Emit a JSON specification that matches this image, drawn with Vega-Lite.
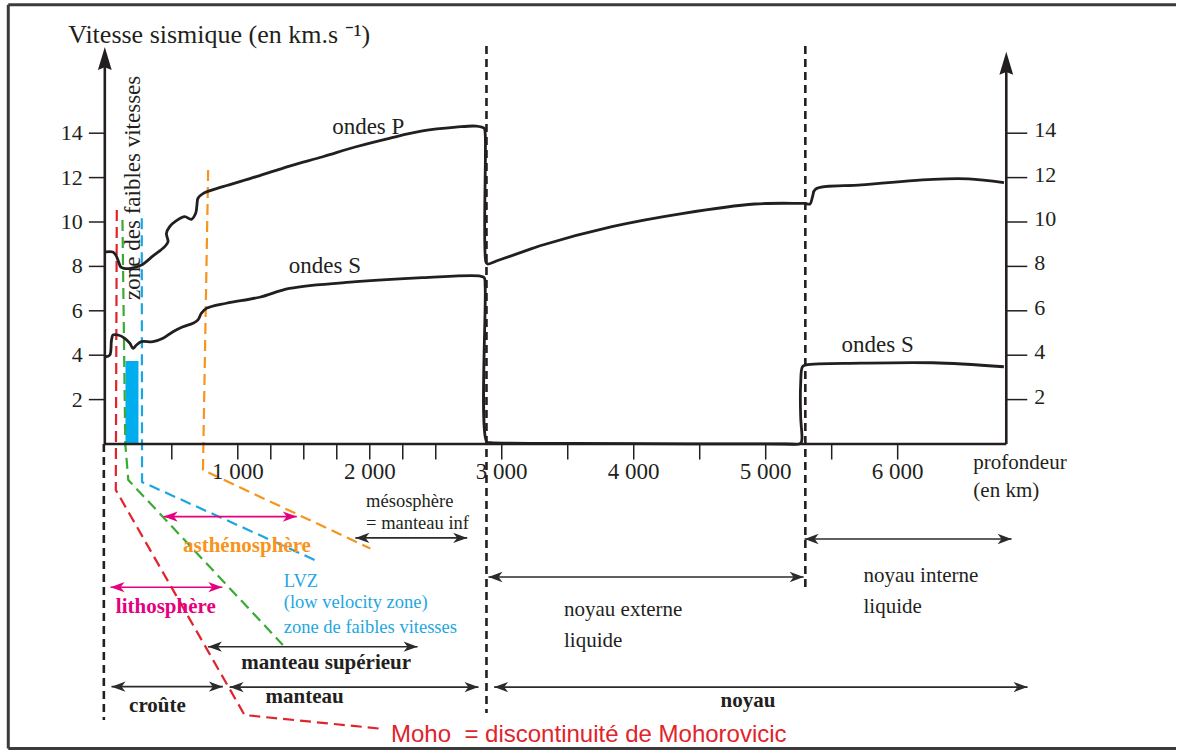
{
  "$schema": "https://vega.github.io/schema/vega-lite/v6.json",
  "width": 1178,
  "height": 751,
  "padding": 0,
  "autosize": {"type": "fit", "contains": "padding"},
  "background": "white",
  "config": {"view": {"stroke": null}},
  "resolve": {"scale": {"color": "independent"}},
  "datasets": {
    "ondes": [
      {"onde": "P", "profondeur": 0, "vitesse": 8.65},
      {"onde": "P", "profondeur": 52.9, "vitesse": 8.65},
      {"onde": "P", "profondeur": 75.6, "vitesse": 8.51},
      {"onde": "P", "profondeur": 94.6, "vitesse": 8.24},
      {"onde": "P", "profondeur": 113.5, "vitesse": 7.97},
      {"onde": "P", "profondeur": 136.2, "vitesse": 7.91},
      {"onde": "P", "profondeur": 189.1, "vitesse": 7.91},
      {"onde": "P", "profondeur": 270.0, "vitesse": 8.06},
      {"onde": "P", "profondeur": 357.8, "vitesse": 8.47},
      {"onde": "P", "profondeur": 446.3, "vitesse": 8.89},
      {"onde": "P", "profondeur": 471.3, "vitesse": 9.11},
      {"onde": "P", "profondeur": 459.2, "vitesse": 9.49},
      {"onde": "P", "profondeur": 484.1, "vitesse": 9.79},
      {"onde": "P", "profondeur": 534.8, "vitesse": 10.06},
      {"onde": "P", "profondeur": 597.6, "vitesse": 10.24},
      {"onde": "P", "profondeur": 648.3, "vitesse": 10.12},
      {"onde": "P", "profondeur": 680.8, "vitesse": 10.39},
      {"onde": "P", "profondeur": 690.6, "vitesse": 10.77},
      {"onde": "P", "profondeur": 698.2, "vitesse": 11.07},
      {"onde": "P", "profondeur": 736.0, "vitesse": 11.28},
      {"onde": "P", "profondeur": 887.3, "vitesse": 11.59},
      {"onde": "P", "profondeur": 1139.9, "vitesse": 12.04},
      {"onde": "P", "profondeur": 1391.8, "vitesse": 12.52},
      {"onde": "P", "profondeur": 1643.7, "vitesse": 12.94},
      {"onde": "P", "profondeur": 1896.4, "vitesse": 13.39},
      {"onde": "P", "profondeur": 2148.3, "vitesse": 13.77},
      {"onde": "P", "profondeur": 2400.1, "vitesse": 14.10},
      {"onde": "P", "profondeur": 2652.8, "vitesse": 14.27},
      {"onde": "P", "profondeur": 2804.1, "vitesse": 14.32},
      {"onde": "P", "profondeur": 2866.9, "vitesse": 14.22},
      {"onde": "P", "profondeur": 2874.4, "vitesse": 14.00},
      {"onde": "P", "profondeur": 2879.7, "vitesse": 8.21},
      {"onde": "P", "profondeur": 2891.8, "vitesse": 8.11},
      {"onde": "P", "profondeur": 2980.3, "vitesse": 8.29},
      {"onde": "P", "profondeur": 3237.5, "vitesse": 8.82},
      {"onde": "P", "profondeur": 3290.5, "vitesse": 8.93},
      {"onde": "P", "profondeur": 3835.1, "vitesse": 9.79},
      {"onde": "P", "profondeur": 4376.7, "vitesse": 10.39},
      {"onde": "P", "profondeur": 4916.8, "vitesse": 10.81},
      {"onde": "P", "profondeur": 5260.0, "vitesse": 10.84},
      {"onde": "P", "profondeur": 5295.0, "vitesse": 10.84},
      {"onde": "P", "profondeur": 5335.9, "vitesse": 10.81},
      {"onde": "P", "profondeur": 5354.8, "vitesse": 11.14},
      {"onde": "P", "profondeur": 5376.0, "vitesse": 11.47},
      {"onde": "P", "profondeur": 5726.2, "vitesse": 11.67},
      {"onde": "P", "profondeur": 6266.3, "vitesse": 11.92},
      {"onde": "P", "profondeur": 6535.6, "vitesse": 11.94},
      {"onde": "P", "profondeur": 6805.7, "vitesse": 11.77},
      {"onde": "S", "profondeur": 0, "vitesse": 3.93},
      {"onde": "S", "profondeur": 30.3, "vitesse": 4.01},
      {"onde": "S", "profondeur": 43.1, "vitesse": 4.68},
      {"onde": "S", "profondeur": 55.2, "vitesse": 4.91},
      {"onde": "S", "profondeur": 93.0, "vitesse": 4.91},
      {"onde": "S", "profondeur": 143.7, "vitesse": 4.76},
      {"onde": "S", "profondeur": 181.5, "vitesse": 4.54},
      {"onde": "S", "profondeur": 206.5, "vitesse": 4.31},
      {"onde": "S", "profondeur": 232.2, "vitesse": 4.46},
      {"onde": "S", "profondeur": 270.0, "vitesse": 4.61},
      {"onde": "S", "profondeur": 357.8, "vitesse": 4.61},
      {"onde": "S", "profondeur": 433.4, "vitesse": 4.76},
      {"onde": "S", "profondeur": 509.1, "vitesse": 5.06},
      {"onde": "S", "profondeur": 584.7, "vitesse": 5.28},
      {"onde": "S", "profondeur": 660.4, "vitesse": 5.44},
      {"onde": "S", "profondeur": 698.2, "vitesse": 5.59},
      {"onde": "S", "profondeur": 723.9, "vitesse": 5.89},
      {"onde": "S", "profondeur": 761.7, "vitesse": 6.11},
      {"onde": "S", "profondeur": 913.0, "vitesse": 6.34},
      {"onde": "S", "profondeur": 1164.9, "vitesse": 6.61},
      {"onde": "S", "profondeur": 1391.8, "vitesse": 7.01},
      {"onde": "S", "profondeur": 1896.4, "vitesse": 7.31},
      {"onde": "S", "profondeur": 2400.1, "vitesse": 7.49},
      {"onde": "S", "profondeur": 2829.0, "vitesse": 7.57},
      {"onde": "S", "profondeur": 2866.9, "vitesse": 7.49},
      {"onde": "S", "profondeur": 2874.4, "vitesse": 7.09},
      {"onde": "S", "profondeur": 2885.8, "vitesse": 0.10},
      {"onde": "S", "profondeur": 2914.5, "vitesse": 0.06},
      {"onde": "S", "profondeur": 3562.8, "vitesse": 0.03},
      {"onde": "S", "profondeur": 4400.0, "vitesse": 0.01},
      {"onde": "S", "profondeur": 5150.0, "vitesse": 0.0},
      {"onde": "S", "profondeur": 5255.0, "vitesse": 0.0},
      {"onde": "S", "profondeur": 5270.0, "vitesse": 0.08},
      {"onde": "S", "profondeur": 5275.0, "vitesse": 0.25},
      {"onde": "S", "profondeur": 5265.0, "vitesse": 1.23},
      {"onde": "S", "profondeur": 5265.0, "vitesse": 2.73},
      {"onde": "S", "profondeur": 5278.6, "vitesse": 3.48},
      {"onde": "S", "profondeur": 5305.7, "vitesse": 3.56},
      {"onde": "S", "profondeur": 5724.0, "vitesse": 3.64},
      {"onde": "S", "profondeur": 6264.0, "vitesse": 3.66},
      {"onde": "S", "profondeur": 6804.9, "vitesse": 3.48}
    ],
    "limites": [
      {"limite": "Moho", "profondeur": 83.2, "vitesse": 10.54},
      {"limite": "Moho", "profondeur": 75.6, "vitesse": -2.07},
      {"limite": "Moho", "profondeur": 1051.4, "vitesse": -12.21},
      {"limite": "Moho", "profondeur": 2110.4, "vitesse": -12.84},
      {"limite": "lithosphère", "profondeur": 126.1, "vitesse": 10.09},
      {"limite": "lithosphère", "profondeur": 147.5, "vitesse": 0},
      {"limite": "lithosphère", "profondeur": 170.2, "vitesse": -1.62},
      {"limite": "lithosphère", "profondeur": 1341.2, "vitesse": -9.05},
      {"limite": "LVZ", "profondeur": 272.3, "vitesse": 10.17},
      {"limite": "LVZ", "profondeur": 274.6, "vitesse": -1.71},
      {"limite": "LVZ", "profondeur": 1599.8, "vitesse": -5.27},
      {"limite": "asthénosphère", "profondeur": 775.3, "vitesse": 12.34},
      {"limite": "asthénosphère", "profondeur": 736.0, "vitesse": -1.17},
      {"limite": "asthénosphère", "profondeur": 2004.5, "vitesse": -4.71}
    ],
    "discontinuites": [
      {"profondeur": -15, "haut": 0, "bas": -12.43},
      {"profondeur": 2884.3, "haut": 17.93, "bas": -12.12},
      {"profondeur": 5300.3, "haut": 17.93, "bas": -6.49}
    ],
    "enveloppes": [
      {"nom": "croûte", "debut": 43.1, "fin": 887.3, "niveau": -10.93, "couleur": "noir"},
      {"nom": "manteau", "debut": 938.0, "fin": 2823.8, "niveau": -10.95, "couleur": "noir"},
      {"nom": "noyau", "debut": 2942.5, "fin": 6984.1, "niveau": -10.95, "couleur": "noir"},
      {"nom": "manteau supérieur", "debut": 773.8, "fin": 2362.3, "niveau": -9.13, "couleur": "noir"},
      {"nom": "lithosphère", "debut": 35.6, "fin": 882.7, "niveau": -6.45, "couleur": "magenta"},
      {"nom": "asthénosphère", "debut": 438.7, "fin": 1447.0, "niveau": -3.27, "couleur": "magenta"},
      {"nom": "mésosphère", "debut": 1891.1, "fin": 2738.3, "niveau": -4.23, "couleur": "noir"},
      {"nom": "noyau externe", "debut": 2899.4, "fin": 5287.5, "niveau": -5.99, "couleur": "noir"},
      {"nom": "noyau interne", "debut": 5295.0, "fin": 6863.1, "niveau": -4.28, "couleur": "noir"}
    ],
    "graduations_v": [
      {"v": 2}, {"v": 4}, {"v": 6}, {"v": 8}, {"v": 10}, {"v": 12}, {"v": 14}
    ],
    "graduations_km": [
      {"km": 500}, {"km": 1000}, {"km": 1250}, {"km": 1500}, {"km": 1750}, {"km": 2000},
      {"km": 2250}, {"km": 2500}, {"km": 3000}, {"km": 3500}, {"km": 4000}, {"km": 4500},
      {"km": 5000}, {"km": 5500}, {"km": 6000}
    ],
    "etiquettes_km": [
      {"km": 1000, "texte": "1 000"}, {"km": 2000, "texte": "2 000"}, {"km": 3000, "texte": "3 000"},
      {"km": 4000, "texte": "4 000"}, {"km": 5000, "texte": "5 000"}, {"km": 6000, "texte": "6 000"}
    ]
  },
  "layer": [
    {
      "data": {"values": [{}]},
      "mark": {"type": "rule", "color": "#3b3b3b", "strokeWidth": 3},
      "encoding": {
        "x": {"datum": -739.0, "type": "quantitative", "axis": null, "scale": {"domain": [-801.8, 8108.9], "nice": false, "zero": false}},
        "y": {"datum": 19.79, "type": "quantitative", "axis": null, "scale": {"domain": [-13.829, 20], "nice": false, "zero": false}},
        "y2": {"datum": -13.72}
      }
    },
    {
      "data": {"values": [{}]},
      "mark": {"type": "rule", "color": "#3b3b3b", "strokeWidth": 3},
      "encoding": {
        "x": {"datum": -739.0, "type": "quantitative", "axis": null, "scale": {"domain": [-801.8, 8108.9], "nice": false, "zero": false}},
        "x2": {"datum": 8108.9},
        "y": {"datum": 19.79, "type": "quantitative", "axis": null, "scale": {"domain": [-13.829, 20], "nice": false, "zero": false}}
      }
    },
    {
      "data": {"values": [{}]},
      "mark": {"type": "rule", "color": "#3b3b3b", "strokeWidth": 3},
      "encoding": {
        "x": {"datum": -739.0, "type": "quantitative", "axis": null, "scale": {"domain": [-801.8, 8108.9], "nice": false, "zero": false}},
        "x2": {"datum": 8108.9},
        "y": {"datum": -13.72, "type": "quantitative", "axis": null, "scale": {"domain": [-13.829, 20], "nice": false, "zero": false}}
      }
    },
    {
      "data": {"values": [{"debut": 149.0, "fin": 247.3, "bas": 0, "haut": 3.74}]},
      "mark": {"type": "rect", "color": "#00aeef"},
      "encoding": {
        "x": {"field": "debut", "type": "quantitative", "axis": null, "scale": {"domain": [-801.8, 8108.9], "nice": false, "zero": false}},
        "x2": {"field": "fin"},
        "y": {"field": "bas", "type": "quantitative", "axis": null, "scale": {"domain": [-13.829, 20], "nice": false, "zero": false}},
        "y2": {"field": "haut"}
      }
    },
    {
      "data": {"name": "limites"},
      "mark": {"type": "line", "strokeWidth": 2.2, "strokeDash": [11, 6], "strokeJoin": "miter"},
      "encoding": {
        "x": {"field": "profondeur", "type": "quantitative", "axis": null, "scale": {"domain": [-801.8, 8108.9], "nice": false, "zero": false}},
        "y": {"field": "vitesse", "type": "quantitative", "axis": null, "scale": {"domain": [-13.829, 20], "nice": false, "zero": false}},
        "color": {"field": "limite", "type": "nominal", "legend": null, "scale": {"domain": ["Moho", "lithosphère", "LVZ", "asthénosphère"], "range": ["#e0242b", "#3aaa35", "#1ba6e2", "#f7941d"]}},
        "order": {"value": null}
      }
    },
    {
      "data": {"name": "discontinuites"},
      "mark": {"type": "rule", "color": "#231f20", "strokeWidth": 2.6, "strokeDash": [8, 5]},
      "encoding": {
        "x": {"field": "profondeur", "type": "quantitative", "axis": null, "scale": {"domain": [-801.8, 8108.9], "nice": false, "zero": false}},
        "y": {"field": "haut", "type": "quantitative", "axis": null, "scale": {"domain": [-13.829, 20], "nice": false, "zero": false}},
        "y2": {"field": "bas"}
      }
    },
    {
      "data": {"values": [{}]},
      "mark": {"type": "rule", "color": "#231f20", "strokeWidth": 2.6},
      "encoding": {
        "x": {"datum": -7.6, "type": "quantitative", "axis": null, "scale": {"domain": [-801.8, 8108.9], "nice": false, "zero": false}},
        "x2": {"datum": 6823},
        "y": {"datum": 0, "type": "quantitative", "axis": null, "scale": {"domain": [-13.829, 20], "nice": false, "zero": false}}
      }
    },
    {
      "data": {"values": [{}]},
      "mark": {"type": "rule", "color": "#231f20", "strokeWidth": 2.6},
      "encoding": {
        "x": {"datum": -7.6, "type": "quantitative", "axis": null, "scale": {"domain": [-801.8, 8108.9], "nice": false, "zero": false}},
        "y": {"datum": 0, "type": "quantitative", "axis": null, "scale": {"domain": [-13.829, 20], "nice": false, "zero": false}},
        "y2": {"datum": 17.1}
      }
    },
    {
      "data": {"values": [{}]},
      "mark": {"type": "rule", "color": "#231f20", "strokeWidth": 2.6},
      "encoding": {
        "x": {"datum": 6823, "type": "quantitative", "axis": null, "scale": {"domain": [-801.8, 8108.9], "nice": false, "zero": false}},
        "y": {"datum": 0, "type": "quantitative", "axis": null, "scale": {"domain": [-13.829, 20], "nice": false, "zero": false}},
        "y2": {"datum": 16.9}
      }
    },
    {
      "data": {"values": [{"profondeur": -7.6, "vitesse": 17.88}, {"profondeur": 6823, "vitesse": 17.67}]},
      "mark": {"type": "point", "filled": true, "opacity": 1, "color": "#231f20", "strokeWidth": 0, "size": 2116, "shape": "M0,0L-0.3,1L0,0.88L0.3,1Z"},
      "encoding": {
        "x": {"field": "profondeur", "type": "quantitative", "axis": null, "scale": {"domain": [-801.8, 8108.9], "nice": false, "zero": false}},
        "y": {"field": "vitesse", "type": "quantitative", "axis": null, "scale": {"domain": [-13.829, 20], "nice": false, "zero": false}}
      }
    },
    {
      "data": {"name": "graduations_v"},
      "mark": {"type": "rule", "color": "#231f20", "strokeWidth": 1.5},
      "encoding": {
        "x": {"datum": -128.6, "type": "quantitative", "axis": null, "scale": {"domain": [-801.8, 8108.9], "nice": false, "zero": false}},
        "x2": {"datum": -7.6},
        "y": {"field": "v", "type": "quantitative", "axis": null, "scale": {"domain": [-13.829, 20], "nice": false, "zero": false}}
      }
    },
    {
      "data": {"name": "graduations_v"},
      "mark": {"type": "rule", "color": "#231f20", "strokeWidth": 1.5},
      "encoding": {
        "x": {"datum": 6823, "type": "quantitative", "axis": null, "scale": {"domain": [-801.8, 8108.9], "nice": false, "zero": false}},
        "x2": {"datum": 6982},
        "y": {"field": "v", "type": "quantitative", "axis": null, "scale": {"domain": [-13.829, 20], "nice": false, "zero": false}}
      }
    },
    {
      "data": {"name": "graduations_km"},
      "mark": {"type": "rule", "color": "#231f20", "strokeWidth": 1.5},
      "encoding": {
        "x": {"field": "km", "type": "quantitative", "axis": null, "scale": {"domain": [-801.8, 8108.9], "nice": false, "zero": false}},
        "y": {"datum": 0, "type": "quantitative", "axis": null, "scale": {"domain": [-13.829, 20], "nice": false, "zero": false}},
        "y2": {"datum": -0.7}
      }
    },
    {
      "data": {"name": "graduations_v"},
      "mark": {"type": "text", "font": "Liberation Serif", "fontSize": 22, "color": "#231f20", "align": "right", "baseline": "middle"},
      "encoding": {
        "x": {"datum": -174, "type": "quantitative", "axis": null, "scale": {"domain": [-801.8, 8108.9], "nice": false, "zero": false}},
        "y": {"field": "v", "type": "quantitative", "axis": null, "scale": {"domain": [-13.829, 20], "nice": false, "zero": false}},
        "text": {"field": "v", "type": "quantitative"}
      }
    },
    {
      "data": {"name": "graduations_v"},
      "mark": {"type": "text", "font": "Liberation Serif", "fontSize": 22, "color": "#231f20", "align": "left", "baseline": "middle", "dy": -3},
      "encoding": {
        "x": {"datum": 7034.8, "type": "quantitative", "axis": null, "scale": {"domain": [-801.8, 8108.9], "nice": false, "zero": false}},
        "y": {"field": "v", "type": "quantitative", "axis": null, "scale": {"domain": [-13.829, 20], "nice": false, "zero": false}},
        "text": {"field": "v", "type": "quantitative"}
      }
    },
    {
      "data": {"name": "etiquettes_km"},
      "mark": {"type": "text", "font": "Liberation Serif", "fontSize": 23, "color": "#231f20", "align": "center", "baseline": "alphabetic"},
      "encoding": {
        "x": {"field": "km", "type": "quantitative", "axis": null, "scale": {"domain": [-801.8, 8108.9], "nice": false, "zero": false}},
        "y": {"datum": -1.58, "type": "quantitative", "axis": null, "scale": {"domain": [-13.829, 20], "nice": false, "zero": false}},
        "text": {"field": "texte"}
      }
    },
    {
      "data": {"name": "ondes"},
      "mark": {"type": "line", "color": "#231f20", "strokeWidth": 2.8, "strokeJoin": "round", "interpolate": "catmull-rom"},
      "encoding": {
        "x": {"field": "profondeur", "type": "quantitative", "axis": null, "scale": {"domain": [-801.8, 8108.9], "nice": false, "zero": false}},
        "y": {"field": "vitesse", "type": "quantitative", "axis": null, "scale": {"domain": [-13.829, 20], "nice": false, "zero": false}},
        "detail": {"field": "onde"},
        "order": {"value": null}
      }
    },
    {
      "data": {"name": "enveloppes"},
      "mark": {"type": "rule", "strokeWidth": 1.6},
      "encoding": {
        "x": {"field": "debut", "type": "quantitative", "axis": null, "scale": {"domain": [-801.8, 8108.9], "nice": false, "zero": false}},
        "x2": {"field": "fin"},
        "y": {"field": "niveau", "type": "quantitative", "axis": null, "scale": {"domain": [-13.829, 20], "nice": false, "zero": false}},
        "color": {"field": "couleur", "type": "nominal", "legend": null, "scale": {"domain": ["noir", "magenta"], "range": ["#2b2b2b", "#e6007e"]}}
      }
    },
    {
      "data": {"name": "enveloppes"},
      "mark": {"type": "point", "filled": true, "opacity": 1, "strokeWidth": 0, "size": 784, "shape": "M0,0L1,-0.37L0.72,0L1,0.37Z"},
      "encoding": {
        "x": {"field": "debut", "type": "quantitative", "axis": null, "scale": {"domain": [-801.8, 8108.9], "nice": false, "zero": false}},
        "y": {"field": "niveau", "type": "quantitative", "axis": null, "scale": {"domain": [-13.829, 20], "nice": false, "zero": false}},
        "color": {"field": "couleur", "type": "nominal", "legend": null, "scale": {"domain": ["noir", "magenta"], "range": ["#2b2b2b", "#e6007e"]}}
      }
    },
    {
      "data": {"name": "enveloppes"},
      "mark": {"type": "point", "filled": true, "opacity": 1, "strokeWidth": 0, "size": 784, "shape": "M0,0L-1,-0.37L-0.72,0L-1,0.37Z"},
      "encoding": {
        "x": {"field": "fin", "type": "quantitative", "axis": null, "scale": {"domain": [-801.8, 8108.9], "nice": false, "zero": false}},
        "y": {"field": "niveau", "type": "quantitative", "axis": null, "scale": {"domain": [-13.829, 20], "nice": false, "zero": false}},
        "color": {"field": "couleur", "type": "nominal", "legend": null, "scale": {"domain": ["noir", "magenta"], "range": ["#2b2b2b", "#e6007e"]}}
      }
    },
    {
      "data": {"values": [{"texte": "Vitesse sismique (en km.s ⁻¹)", "profondeur": -285.2, "vitesse": 18.06}]},
      "mark": {"type": "text", "font": "Liberation Serif", "fontSize": 26, "color": "#231f20", "align": "left", "baseline": "alphabetic"},
      "encoding": {
        "x": {"field": "profondeur", "type": "quantitative", "axis": null, "scale": {"domain": [-801.8, 8108.9], "nice": false, "zero": false}},
        "y": {"field": "vitesse", "type": "quantitative", "axis": null, "scale": {"domain": [-13.829, 20], "nice": false, "zero": false}},
        "text": {"field": "texte"}
      }
    },
    {
      "data": {"values": [
        {"texte": "ondes P", "profondeur": 1714.8, "vitesse": 13.96},
        {"texte": "ondes S", "profondeur": 1386.5, "vitesse": 7.72},
        {"texte": "ondes S", "profondeur": 5575, "vitesse": 4.16}
      ]},
      "mark": {"type": "text", "font": "Liberation Serif", "fontSize": 23, "color": "#231f20", "align": "left", "baseline": "alphabetic"},
      "encoding": {
        "x": {"field": "profondeur", "type": "quantitative", "axis": null, "scale": {"domain": [-801.8, 8108.9], "nice": false, "zero": false}},
        "y": {"field": "vitesse", "type": "quantitative", "axis": null, "scale": {"domain": [-13.829, 20], "nice": false, "zero": false}},
        "text": {"field": "texte"}
      }
    },
    {
      "data": {"values": [
        {"texte": "profondeur", "profondeur": 6573.4, "vitesse": -1.13},
        {"texte": "(en km)", "profondeur": 6573.4, "vitesse": -2.39},
        {"texte": "noyau externe", "profondeur": 3472.0, "vitesse": -7.75},
        {"texte": "liquide", "profondeur": 3472.0, "vitesse": -9.16},
        {"texte": "noyau interne", "profondeur": 5741.3, "vitesse": -6.20},
        {"texte": "liquide", "profondeur": 5741.3, "vitesse": -7.63}
      ]},
      "mark": {"type": "text", "font": "Liberation Serif", "fontSize": 21, "color": "#231f20", "align": "left", "baseline": "alphabetic"},
      "encoding": {
        "x": {"field": "profondeur", "type": "quantitative", "axis": null, "scale": {"domain": [-801.8, 8108.9], "nice": false, "zero": false}},
        "y": {"field": "vitesse", "type": "quantitative", "axis": null, "scale": {"domain": [-13.829, 20], "nice": false, "zero": false}},
        "text": {"field": "texte"}
      }
    },
    {
      "data": {"values": [
        {"texte": "mésosphère", "profondeur": 1972, "vitesse": -2.82},
        {"texte": "= manteau inf", "profondeur": 1972, "vitesse": -3.84}
      ]},
      "mark": {"type": "text", "font": "Liberation Serif", "fontSize": 18.5, "color": "#231f20", "align": "left", "baseline": "alphabetic"},
      "encoding": {
        "x": {"field": "profondeur", "type": "quantitative", "axis": null, "scale": {"domain": [-801.8, 8108.9], "nice": false, "zero": false}},
        "y": {"field": "vitesse", "type": "quantitative", "axis": null, "scale": {"domain": [-13.829, 20], "nice": false, "zero": false}},
        "text": {"field": "texte"}
      }
    },
    {
      "data": {"values": [
        {"texte": "manteau supérieur", "profondeur": 1026.5, "vitesse": -10.15},
        {"texte": "manteau", "profondeur": 1210.3, "vitesse": -11.68},
        {"texte": "croûte", "profondeur": 176.2, "vitesse": -12.06},
        {"texte": "noyau", "profondeur": 4657.3, "vitesse": -11.83}
      ]},
      "mark": {"type": "text", "font": "Liberation Serif", "fontWeight": "bold", "fontSize": 21, "color": "#231f20", "align": "left", "baseline": "alphabetic"},
      "encoding": {
        "x": {"field": "profondeur", "type": "quantitative", "axis": null, "scale": {"domain": [-801.8, 8108.9], "nice": false, "zero": false}},
        "y": {"field": "vitesse", "type": "quantitative", "axis": null, "scale": {"domain": [-13.829, 20], "nice": false, "zero": false}},
        "text": {"field": "texte"}
      }
    },
    {
      "data": {"values": [{"texte": "lithosphère", "profondeur": 75.6, "vitesse": -7.63}]},
      "mark": {"type": "text", "font": "Liberation Serif", "fontWeight": "bold", "fontSize": 21, "color": "#e6007e", "align": "left", "baseline": "alphabetic"},
      "encoding": {
        "x": {"field": "profondeur", "type": "quantitative", "axis": null, "scale": {"domain": [-801.8, 8108.9], "nice": false, "zero": false}},
        "y": {"field": "vitesse", "type": "quantitative", "axis": null, "scale": {"domain": [-13.829, 20], "nice": false, "zero": false}},
        "text": {"field": "texte"}
      }
    },
    {
      "data": {"values": [{"texte": "asthénosphère", "profondeur": 584.7, "vitesse": -4.85}]},
      "mark": {"type": "text", "font": "Liberation Serif", "fontWeight": "bold", "fontSize": 21, "color": "#f7941d", "align": "left", "baseline": "alphabetic"},
      "encoding": {
        "x": {"field": "profondeur", "type": "quantitative", "axis": null, "scale": {"domain": [-801.8, 8108.9], "nice": false, "zero": false}},
        "y": {"field": "vitesse", "type": "quantitative", "axis": null, "scale": {"domain": [-13.829, 20], "nice": false, "zero": false}},
        "text": {"field": "texte"}
      }
    },
    {
      "data": {"values": [
        {"texte": "LVZ", "profondeur": 1348.7, "vitesse": -6.43},
        {"texte": "(low velocity zone)", "profondeur": 1348.7, "vitesse": -7.40},
        {"texte": "zone de faibles vitesses", "profondeur": 1348.7, "vitesse": -8.50}
      ]},
      "mark": {"type": "text", "font": "Liberation Serif", "fontSize": 18.5, "color": "#1ea7e1", "align": "left", "baseline": "alphabetic"},
      "encoding": {
        "x": {"field": "profondeur", "type": "quantitative", "axis": null, "scale": {"domain": [-801.8, 8108.9], "nice": false, "zero": false}},
        "y": {"field": "vitesse", "type": "quantitative", "axis": null, "scale": {"domain": [-13.829, 20], "nice": false, "zero": false}},
        "text": {"field": "texte"}
      }
    },
    {
      "data": {"values": [{"texte": "Moho\u00a0 = discontinuité de Mohorovicic", "profondeur": 2161.1, "vitesse": -13.41}]},
      "mark": {"type": "text", "font": "Liberation Sans", "fontSize": 24, "color": "#e0242b", "align": "left", "baseline": "alphabetic"},
      "encoding": {
        "x": {"field": "profondeur", "type": "quantitative", "axis": null, "scale": {"domain": [-801.8, 8108.9], "nice": false, "zero": false}},
        "y": {"field": "vitesse", "type": "quantitative", "axis": null, "scale": {"domain": [-13.829, 20], "nice": false, "zero": false}},
        "text": {"field": "texte"}
      }
    },
    {
      "data": {"values": [{"texte": "zone des faibles vitesses", "profondeur": 257.2, "vitesse": 6.49}]},
      "mark": {"type": "text", "font": "Liberation Serif", "fontSize": 23, "color": "#231f20", "align": "left", "baseline": "alphabetic", "angle": 270},
      "encoding": {
        "x": {"field": "profondeur", "type": "quantitative", "axis": null, "scale": {"domain": [-801.8, 8108.9], "nice": false, "zero": false}},
        "y": {"field": "vitesse", "type": "quantitative", "axis": null, "scale": {"domain": [-13.829, 20], "nice": false, "zero": false}},
        "text": {"field": "texte"}
      }
    }
  ]
}
